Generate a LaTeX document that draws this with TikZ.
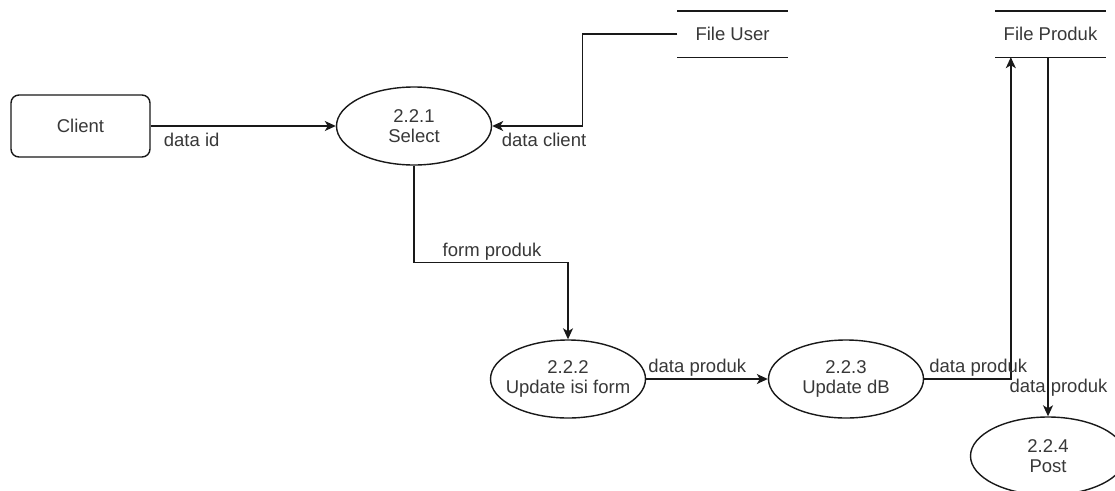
\documentclass[tikz,border=0pt]{standalone}
\usepackage{fontspec}
\setmainfont{Liberation Sans}
\usetikzlibrary{calc}
\usetikzlibrary{shapes.geometric}
\usetikzlibrary{arrows.meta}

\tikzset{
  proc/.style={ellipse,draw,minimum width=155pt,minimum height=78pt,
               inner xsep=-12pt,inner ysep=0pt,align=center},
  ent/.style={rectangle,draw,rounded corners=8pt,
              minimum width=139pt,minimum height=62pt},
  store/.style={minimum width=109pt,minimum height=45pt,inner sep=0pt},
  flow/.style={-{Stealth[length=11pt,width=10pt,inset=3pt]}},
  lbl/.style={inner sep=1.5pt}
}

\begin{document}
\begin{tikzpicture}[x=1pt,y=-1pt,line width=1.4pt,draw=black!90,
  every node/.style={font=\fontsize{18.5}{20.5}\selectfont,text=black!78}]
\useasboundingbox[fill=white] (0,0) rectangle (1115,490);

% entity, processes and stores
\node[ent] (client) at (80.5,126) {Client};
\node[proc] (sel) at (414,126) {2.2.1\\Select};
\node[proc] (isi) at (568,379) {2.2.2\\Update isi form};
\node[proc] (updb) at (846,379) {2.2.3\\Update dB};
\node[proc] (post) at (1048,456) {2.2.4\\Post};
\node[store] (fuser) at (732.5,34) {File User};
\node[store] (fprod) at (1050.5,34) {File Produk};

\draw (fuser.north west) -- (fuser.north east)
      (fuser.south west) -- (fuser.south east);
\draw (fprod.north west) -- (fprod.north east)
      (fprod.south west) -- (fprod.south east);

% data flows
\draw[flow] (client) --%
      node[lbl,pos=0,anchor=north west,xshift=11pt,yshift=-5pt] {data id} (sel);
\draw[flow] (fuser.west) -- ++(-95,0) |-%
      node[lbl,pos=1,anchor=north west,xshift=7.5pt,yshift=-5pt] {data client} (sel.east);
\draw[flow] (sel.south) -- ++(0,97) -|%
      node[lbl,pos=0,anchor=south west,xshift=26.5pt] {form produk} (isi.north);
\draw[flow] (isi) --%
      node[lbl,pos=0,anchor=south west] {data produk} (updb);
\draw[flow] (updb.east) -|%
      node[lbl,pos=0,anchor=south west,xshift=3pt] {data produk}
      ($(fprod.south west)+(15.5,0)$);
\draw[flow] (fprod.south -| post.north) --%
      node[lbl,pos=.92,xshift=10.5pt] {data produk} (post.north);

\end{tikzpicture}
\end{document}
